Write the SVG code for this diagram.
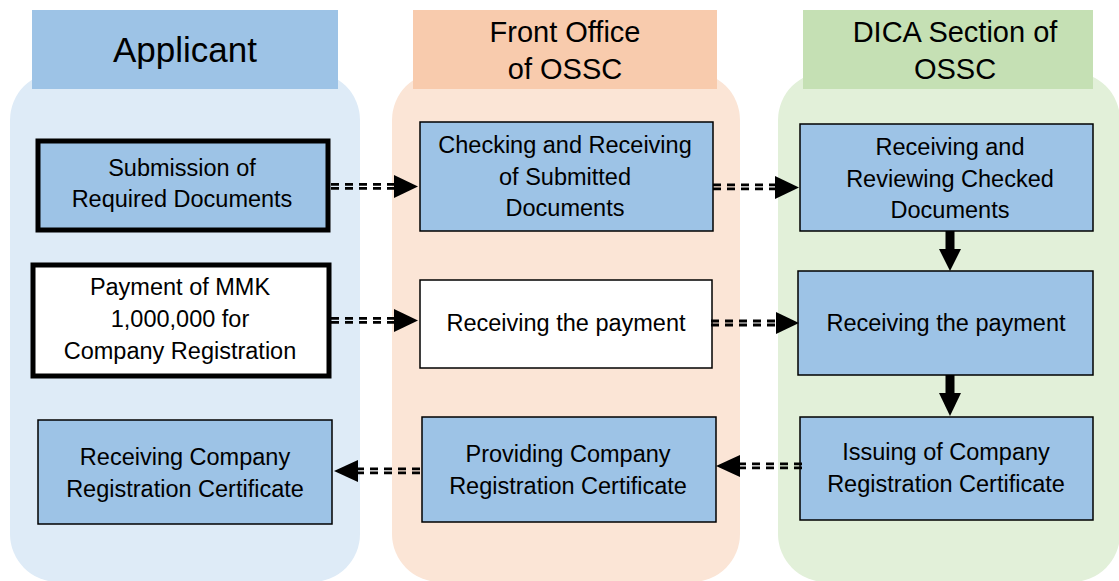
<svg xmlns="http://www.w3.org/2000/svg" width="1119" height="581" viewBox="0 0 1119 581">
<defs>
<style>
.t{font-family:"Liberation Sans",Arial,sans-serif;font-size:23.5px;fill:#000;text-anchor:middle}
.h{font-family:"Liberation Sans",Arial,sans-serif;font-size:29px;fill:#000;text-anchor:middle}
.blue{fill:#9DC3E6;stroke:#000;stroke-width:1.5}
.white{fill:#fff;stroke:#000;stroke-width:1.5}
.thick{stroke-width:5}
.d{stroke:#000;stroke-width:2.8;stroke-dasharray:8 6;fill:none}
.ah{fill:#000}
</style>
</defs>
<rect width="1119" height="581" fill="#fff"/>
<g id="lanes">
<rect x="10" y="72" width="350" height="510" rx="48" fill="#DEEBF7"/>
<rect x="392" y="72" width="348" height="510" rx="48" fill="#FBE5D6"/>
<rect x="778" y="72" width="342" height="510" rx="48" fill="#E2F0D9"/>
</g>
<g id="hdr-applicant"><rect x="32" y="10" width="306" height="79" fill="#9DC3E6"/><text class="h" x="185" y="62" style="font-size:35px">Applicant</text></g>
<g id="hdr-front"><rect x="413" y="10" width="304" height="79" fill="#F8CBAD"/><text class="h" x="565" y="42">Front Office</text><text class="h" x="565" y="79">of OSSC</text></g>
<g id="hdr-dica"><rect x="803" y="10" width="290" height="79" fill="#C5E0B4"/><text class="h" x="955" y="42">DICA Section of</text><text class="h" x="955" y="79">OSSC</text></g>

<g id="n-submission"><rect class="blue thick" x="38" y="141" width="290" height="89"/><text class="t" x="182" y="176">Submission of</text><text class="t" x="182" y="207">Required Documents</text></g>
<g id="n-checking"><rect class="blue" x="420" y="122" width="293" height="109"/><text class="t" x="565" y="153">Checking and Receiving</text><text class="t" x="565" y="185">of Submitted</text><text class="t" x="565" y="216">Documents</text></g>
<g id="n-reviewing"><rect class="blue" x="800" y="124" width="293" height="107"/><text class="t" x="950" y="155">Receiving and</text><text class="t" x="950" y="187">Reviewing Checked</text><text class="t" x="950" y="218">Documents</text></g>
<g id="n-payment"><rect class="white thick" x="33" y="265" width="296" height="111"/><text class="t" x="180" y="295">Payment of MMK</text><text class="t" x="180" y="327">1,000,000 for</text><text class="t" x="180" y="359">Company Registration</text></g>
<g id="n-recv-pay-front"><rect class="white" x="420" y="280" width="292" height="88"/><text class="t" x="566" y="331">Receiving the payment</text></g>
<g id="n-recv-pay-dica"><rect class="blue" x="798" y="271" width="295" height="104"/><text class="t" x="946" y="331">Receiving the payment</text></g>
<g id="n-recv-cert"><rect class="blue" x="38" y="420" width="294" height="104"/><text class="t" x="185" y="465">Receiving Company</text><text class="t" x="185" y="497">Registration Certificate</text></g>
<g id="n-providing"><rect class="blue" x="422" y="417" width="294" height="105"/><text class="t" x="568" y="462">Providing Company</text><text class="t" x="568" y="494">Registration Certificate</text></g>
<g id="n-issuing"><rect class="blue" x="800" y="417" width="293" height="103"/><text class="t" x="946" y="460">Issuing of Company</text><text class="t" x="946" y="492">Registration Certificate</text></g>

<g id="connectors">
<path class="d" d="M331 184.3H396M331 188.3H396"/><polygon class="ah" points="394,175 418,186.5 394,198"/>
<path class="d" d="M713 184.8H778M713 188.8H778"/><polygon class="ah" points="775,176 799,187.5 775,199"/>
<path class="d" d="M331 318.3H396M331 322.3H396"/><polygon class="ah" points="394,309 418,320.5 394,332"/>
<path class="d" d="M711 321H778M711 325H778"/><polygon class="ah" points="776,312 799,323 776,334"/>
<path class="d" d="M420 468.8H356M420 472.8H356"/><polygon class="ah" points="358,460 334,471 358,482"/>
<path class="d" d="M802 463.8H738M802 467.8H738"/><polygon class="ah" points="740,455 716,466 740,477"/>
<rect x="945.5" y="231" width="9" height="20" fill="#000"/><polygon class="ah" points="939,249 961,249 950,271"/>
<rect x="945.5" y="375" width="9" height="20" fill="#000"/><polygon class="ah" points="939,393 961,393 950,416"/>
</g>
</svg>
